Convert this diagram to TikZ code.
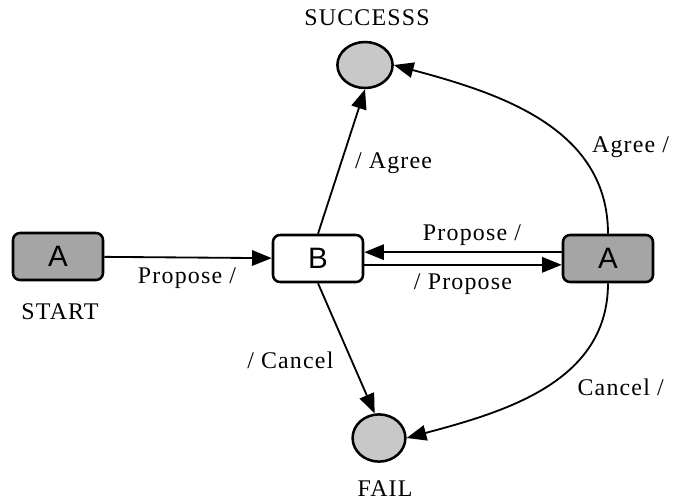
\documentclass[tikz,border=0pt]{standalone}
\usepackage{fontspec}
\setmainfont{Liberation Serif}[LetterSpace=5]
\newfontfamily\boxfont{Liberation Sans}
\usetikzlibrary{arrows.meta,shapes.geometric}
\begin{document}
\begin{tikzpicture}[x=0.025cm,y=-0.025cm,
    statebox/.style={shape=rectangle,draw,line width=1.8pt,rounded corners=5pt,minimum width=2.25cm,font=\boxfont\fontsize{21}{24}\selectfont},
    endstate/.style={shape=ellipse,draw,line width=1.8pt,fill=endgray,inner sep=0pt},
    lbl/.style={inner sep=0pt,font=\fontsize{17}{19}\selectfont},
    trans/.style={draw,line width=1.3pt,-{Triangle[length=14pt,width=11pt]}}]
    \definecolor{endgray}{RGB}{200,200,200}
    \definecolor{boxgray}{RGB}{165,165,165}
    \useasboundingbox (0,0) rectangle (673,502);
    \node[statebox,fill=boxgray,minimum height=1.175cm] (startA) at (58,256.5) {A};
    \node[statebox,fill=white,minimum height=1.175cm] (midB) at (318,258.5) {B};
    \node[statebox,fill=boxgray,minimum height=1.175cm] (rightA) at (608,258.5) {A};
    \node[endstate,minimum width=1.38cm,minimum height=1.15cm] (succ) at (365,65) {};
    \node[endstate,minimum width=1.32cm,minimum height=1.18cm] (fail) at (379,438) {};
    \node[lbl] (succtext) at (367,18) {SUCCESSS};
    \node[lbl] (failtext) at (385,489) {FAIL};
    \node[lbl] (starttext) at (60,312) {START};
    \draw[trans] (startA) -- (midB) node[lbl,midway,shift={(-1,21)}] {Propose /};
    \draw[trans] (midB.north) -- (succ.south) node[lbl,midway,shift={(52,2)}] {/ Agree};
    \draw[trans] (midB.south) -- node[lbl,midway,shift={(-56,12)}] {/ Cancel} (fail.100);
    \draw[trans] ([yshift=4.5pt]rightA.west) -- ([yshift=4.5pt]midB.east) node[lbl,midway,shift={(9,-17)}] {Propose /};
    \draw[trans] ([yshift=-4.5pt]midB.east) -- ([yshift=-4.5pt]rightA.west) node[lbl,midway,shift={(0,19)}] {/ Propose};
    \draw[trans] (rightA.north) to[out=90,in=-15] node[lbl,pos=0.3,anchor=west,shift={(10,-8)}] {Agree /} (succ.east);
    \draw[trans] (rightA.south) to[out=-90,in=15] node[lbl,pos=0.38,anchor=west,shift={(8,17)}] {Cancel /} (fail.east);
\end{tikzpicture}
\end{document}
